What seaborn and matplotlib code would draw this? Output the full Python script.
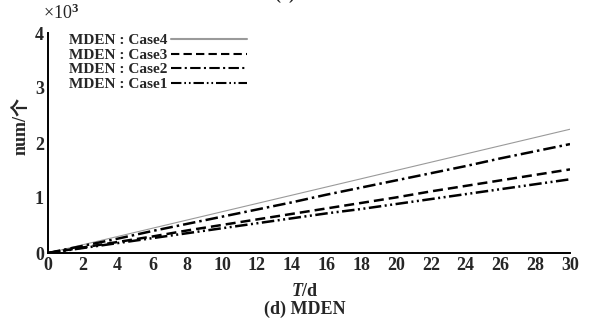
import numpy as np
import pandas as pd
import matplotlib
matplotlib.use("Agg")
import matplotlib.pyplot as plt
import seaborn as sns

# ------------------------------------------------------------------
# Data (values in units of 10^3)
# ------------------------------------------------------------------
days = [0, 2, 4, 6, 8, 10, 12, 14, 16, 18, 20, 22, 24, 26, 28, 30]
case4 = [0.00, 0.15, 0.30, 0.45, 0.60, 0.75, 0.90, 1.05, 1.20, 1.35, 1.50, 1.65, 1.80, 1.95, 2.10, 2.25]
case3 = [0.00, 0.10, 0.20, 0.30, 0.41, 0.51, 0.61, 0.71, 0.81, 0.91, 1.01, 1.12, 1.22, 1.32, 1.42, 1.52]
case2 = [0.00, 0.13, 0.26, 0.40, 0.53, 0.66, 0.79, 0.92, 1.06, 1.19, 1.32, 1.45, 1.58, 1.72, 1.85, 1.98]
case1 = [0.00, 0.09, 0.18, 0.27, 0.36, 0.45, 0.54, 0.63, 0.72, 0.80, 0.89, 0.98, 1.07, 1.16, 1.25, 1.34]
series_names = ["MDEN : Case4", "MDEN : Case3", "MDEN : Case2", "MDEN : Case1"]
x_ticks = list(range(0, 31, 2))
y_ticks = [0, 1, 2, 3, 4]

df = pd.concat([
    pd.DataFrame({"T": days, "num": vals, "case": name})
    for name, vals in zip(series_names, [case4, case3, case2, case1])
])

# ------------------------------------------------------------------
# Style
# ------------------------------------------------------------------
sns.set_style("white")
plt.rcParams["font.family"] = ["Liberation Serif", "Noto Sans CJK SC", "DejaVu Sans"]
plt.rcParams["font.weight"] = "bold"
plt.rcParams["mathtext.fontset"] = "custom"
plt.rcParams["mathtext.rm"] = "Liberation Serif:bold"
plt.rcParams["mathtext.it"] = "Liberation Serif:italic:bold"

palette = {series_names[0]: "#9a9a9a", series_names[1]: "black",
           series_names[2]: "black", series_names[3]: "black"}
dashes = {series_names[0]: "",
          series_names[1]: (4, 2),
          series_names[2]: (5, 1.6, 1, 1.6),
          series_names[3]: (5, 1.4, 0.8, 1.4, 0.8, 1.4)}

fig = plt.figure(figsize=(5.92, 3.21), dpi=100)
ax = fig.add_axes([48 / 592, 1 - 253 / 321, (570 - 48) / 592, (253 - 33) / 321])

sns.lineplot(data=df, x="T", y="num", hue="case", style="case",
             hue_order=series_names, style_order=series_names,
             palette=palette, dashes=dashes, ax=ax, legend=True)

widths = [0.8, 1.8, 1.8, 1.8]
for line, w in zip(ax.lines[:4], widths):
    line.set_linewidth(w)

ax.set_xlim(0, 30)
ax.set_ylim(0, 4)
ax.set_xticks(x_ticks)
ax.set_yticks(y_ticks)
ax.tick_params(direction="in", length=5, width=1.2, labelsize=13, pad=3)
for lab in ax.get_xticklabels() + ax.get_yticklabels():
    lab.set_fontweight("bold")

for side in ["top", "right"]:
    ax.spines[side].set_visible(False)
for side in ["left", "bottom"]:
    ax.spines[side].set_linewidth(1.4)
    ax.spines[side].set_color("black")

ax.set_xlabel("")
ax.set_ylabel("")
fig.text(0.515, 1 - 291 / 321, r"$\mathit{T}$/d", ha="center", va="center",
         fontsize=13, fontweight="bold")
fig.text(0.515, 1 - 309 / 321, "(d) MDEN", ha="center", va="center",
         fontsize=13, fontweight="bold")
fig.text(0.515, 1.018, "(c) PDE", ha="center", va="center",
         fontsize=13, fontweight="bold")
fig.text(21 / 592, 1 - 126 / 321, "num/个", rotation=90, ha="center", va="center",
         fontsize=13, fontweight="bold")
fig.text(43 / 592, 1 - 13 / 321, r"×10$^3$", ha="left", va="center",
         fontsize=13, fontweight="normal")

handles, labels = ax.get_legend_handles_labels()
leg = ax.legend(handles, labels, loc="upper left", bbox_to_anchor=(0.02, 1.045),
                frameon=False, markerfirst=False, handlelength=5.0,
                labelspacing=0.05, handletextpad=0.2, borderpad=0.2,
                prop={"size": 11, "weight": "bold"})

fig.savefig("out.png", dpi=100)
